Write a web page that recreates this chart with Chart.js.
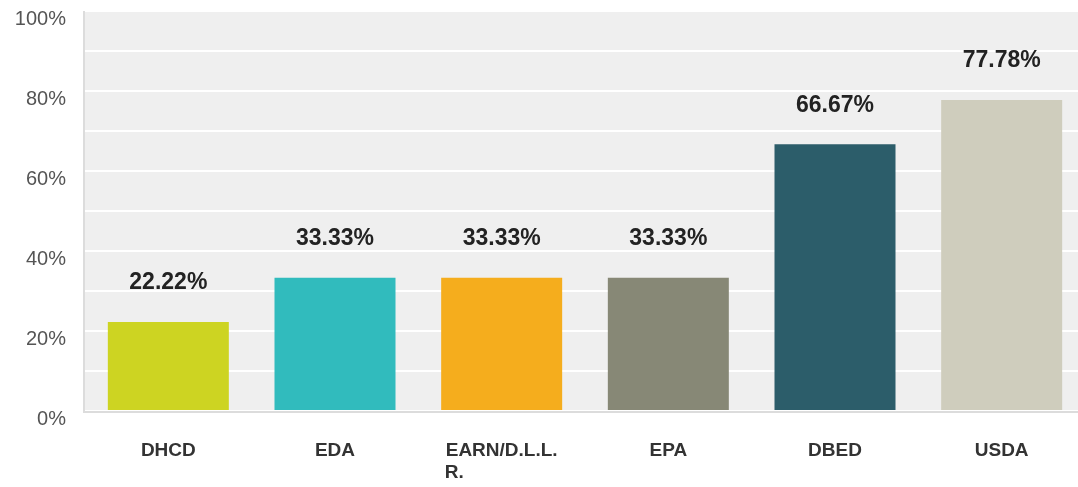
<!DOCTYPE html>
<html>
<head>
<meta charset="utf-8">
<script src="https://cdn.jsdelivr.net/npm/chart.js@4/dist/chart.umd.min.js"></script>
<style>
  html, body { margin: 0; padding: 0; background: #fff; overflow: hidden; }
  #wrap { width: 1085px; height: 487px; }
</style>
</head>
<body>
<div id="wrap"><canvas id="chart"></canvas></div>
<script>
const categories = ['DHCD', 'EDA', ['EARN/D.L.L.', 'R.' + ' '.repeat(18)], 'EPA', 'DBED', 'USDA'];
const values = [22.22, 33.33, 33.33, 33.33, 66.67, 77.78];
const barColors = ['#cdd422', '#31bbbd', '#f5ad1d', '#878876', '#2c5d6a', '#cfcdbd'];
const yTicks = [0, 20, 40, 60, 80, 100];

// grey plot background + light borders on left and bottom
const plotBackground = {
    id: 'plotBackground',
    beforeDraw(chart) {
        const {ctx, chartArea: a} = chart;
        ctx.save();
        ctx.fillStyle = '#efefef';
        ctx.fillRect(a.left, a.top, a.right - a.left, a.bottom - a.top);
        ctx.restore();
    },
    afterDatasetsDraw(chart) {
        const {ctx, chartArea: a} = chart;
        ctx.save();
        ctx.fillStyle = '#dcdcdc';
        ctx.fillRect(a.left - 2, a.top, 2, a.bottom - a.top + 2);
        ctx.fillRect(a.left - 2, a.bottom, a.right - a.left + 2, 2);
        ctx.restore();
    }
};

const valueLabels = {
    id: 'valueLabels',
    afterDatasetsDraw(chart) {
        const {ctx} = chart;
        const meta = chart.getDatasetMeta(0);
        ctx.save();
        ctx.font = 'bold 23px "Liberation Sans", Arial, sans-serif';
        ctx.fillStyle = '#222';
        ctx.textAlign = 'center';
        ctx.textBaseline = 'middle';
        meta.data.forEach((bar, i) => {
            ctx.fillText(values[i].toFixed(2) + '%', bar.x, bar.y - 39);
        });
        ctx.restore();
    }
};

new Chart(document.getElementById('chart'), {
    type: 'bar',
    data: {
        labels: categories,
        datasets: [{
            data: values,
            backgroundColor: barColors,
            borderWidth: 0,
            barPercentage: 0.726,
            categoryPercentage: 1
        }]
    },
    options: {
        responsive: true,
        maintainAspectRatio: false,
        animation: false,
        layout: {padding: {top: 11, right: 0, left: 0, bottom: 0}},
        plugins: {legend: {display: false}, tooltip: {enabled: false}},
        scales: {
            x: {
                grid: {display: false},
                border: {display: false},
                ticks: {
                    color: '#333',
                    padding: 20,
                    maxRotation: 0,
                    autoSkip: false,
                    font: {family: '"Liberation Sans", Arial, sans-serif', size: 19, weight: 'bold', lineHeight: 1.2}
                },
                afterFit(scale) { scale.height = 76; }
            },
            y: {
                min: 0,
                max: 100,
                border: {display: false},
                grid: {color: '#ffffff', lineWidth: 2, drawTicks: false},
                ticks: {
                    stepSize: 10,
                    color: '#555',
                    padding: 19,
                    labelOffset: 8,
                    font: {family: '"Liberation Sans", Arial, sans-serif', size: 20},
                    callback: v => yTicks.includes(v) ? v + '%' : ''
                },
                afterFit(scale) {
                    scale.width = 85;
                    scale.paddingTop = 0;
                    scale.paddingBottom = 0;
                }
            }
        }
    },
    plugins: [plotBackground, valueLabels]
});
</script>
</body>
</html>
